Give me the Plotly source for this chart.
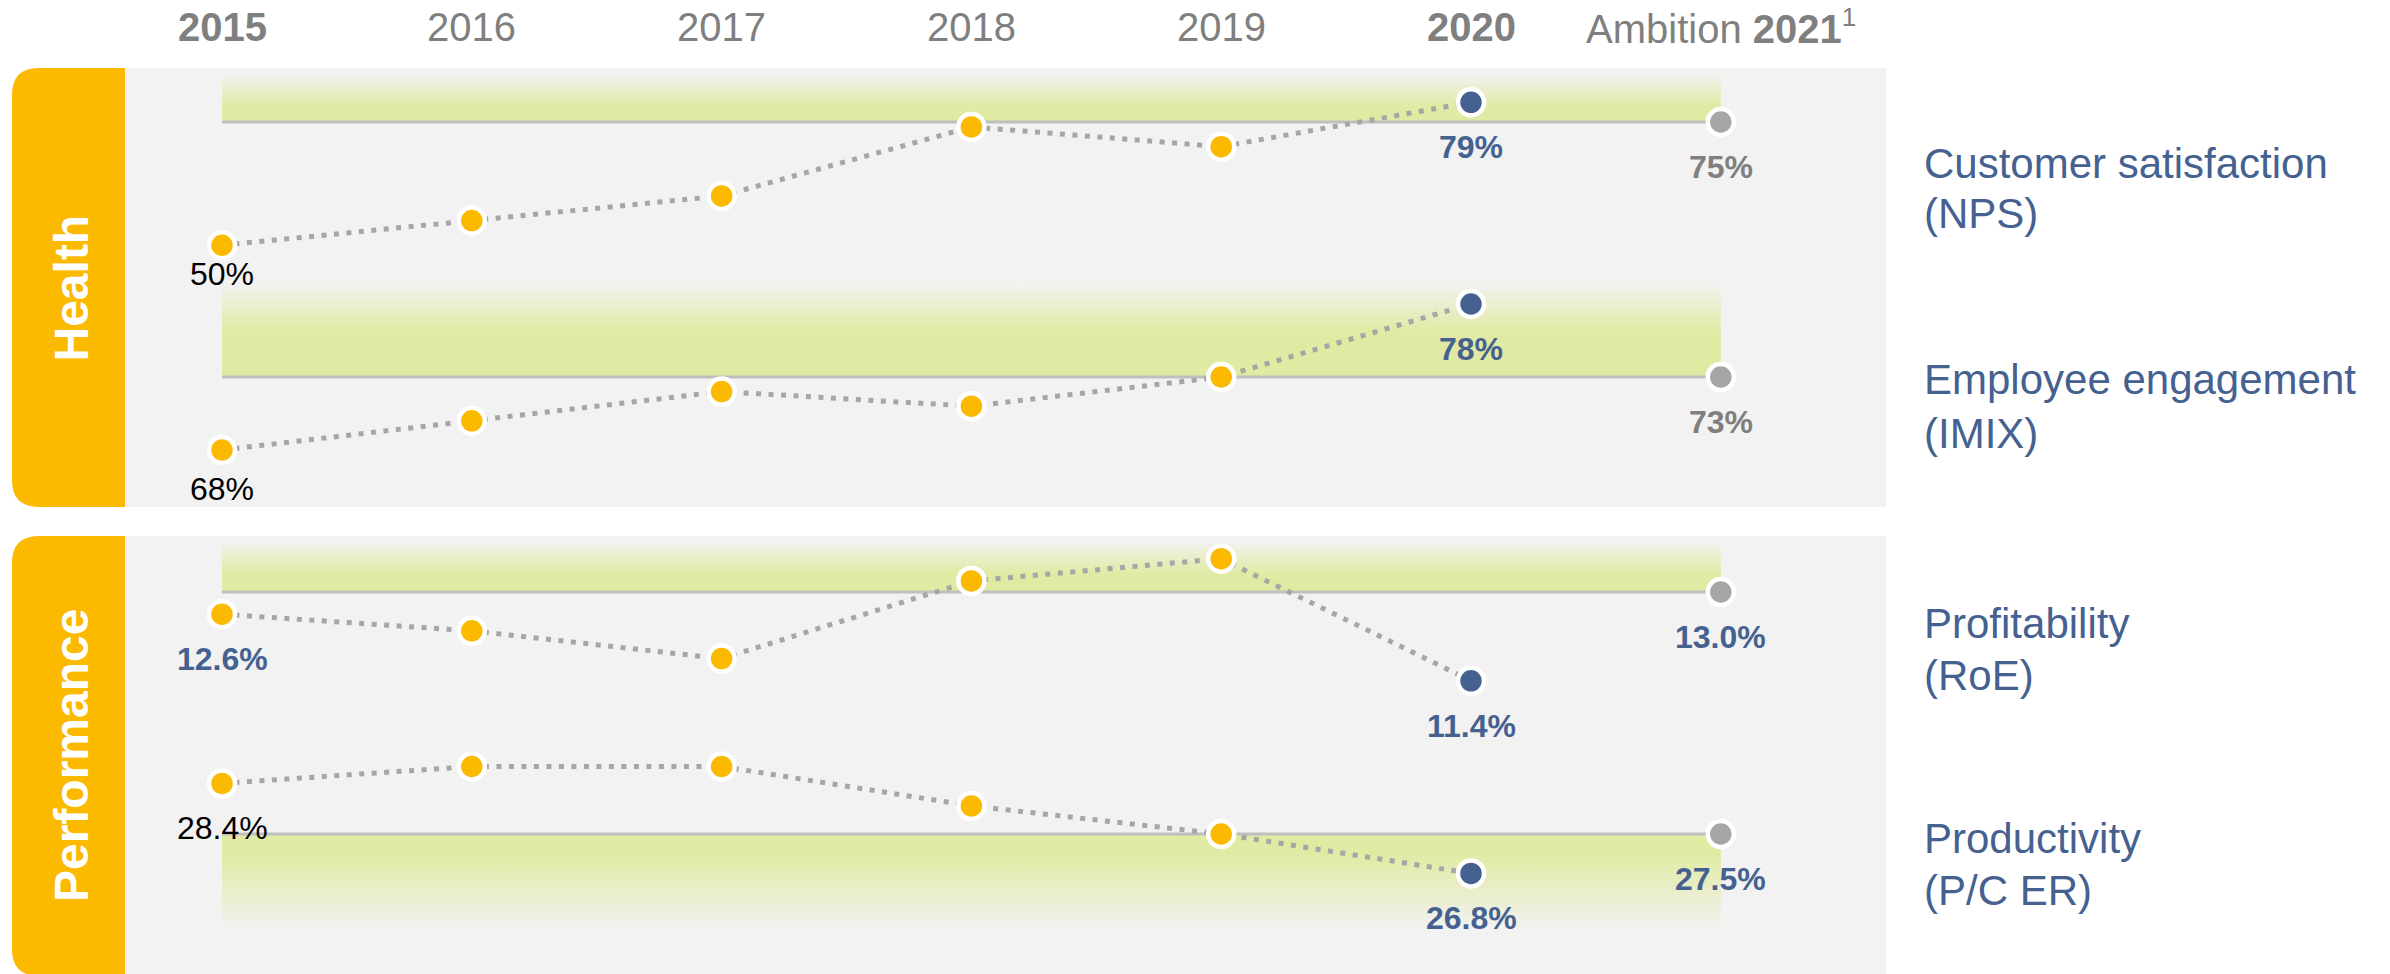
import plotly.graph_objects as go

# ---------------- data ----------------
years = [2015, 2016, 2017, 2018, 2019, 2020]
ambition_year = 2021
year_labels = ["<b>2015</b>", "2016", "2017", "2018", "2019", "<b>2020</b>",
               "Ambition <b>2021</b><sup><span style='font-size:26px'>1</span></sup>"]

nps = [50, 55, 60, 74, 70, 79]
nps_ambition = 75
imix = [68, 70, 72, 71, 73, 78]
imix_ambition = 73
roe = [12.6, 12.3, 11.8, 13.2, 13.6, 11.4]
roe_ambition = 13.0
pce = [28.4, 28.7, 28.7, 28.0, 27.5, 26.8]
pce_ambition = 27.5

metric_names = ["Customer satisfaction", "Employee engagement", "Profitability", "Productivity"]
metric_codes = ["(NPS)", "(IMIX)", "(RoE)", "(P/C ER)"]
metric_decimals = [0, 0, 1, 1]
group_names = ["Health", "Performance"]

# ---------------- styling / layout ----------------
W, H = 2390, 974
FONT = "Liberation Sans, Arial, sans-serif"
YELLOW = "#FBB900"
BLUE = "#456190"
GREYMARK = "#A6A6A6"
GREYTEXT = "#7F7F7F"
PANEL = "#F2F2F2"
GREEN = "#E1EAA2"
REFLINE = "#BFBFBF"

def px(x):
    return x / W

def py(y):
    return 1 - y / H

# x axis: first year at pixel 222, 249.8 px per year
X0_PX, X_PPU = 222, 249.8
x_range = [years[0] - X0_PX / X_PPU, years[0] + (W - X0_PX) / X_PPU]

# per metric: pixel row of ambition line, pixels per unit,
# band extent (px, negative = upward), fraction of band that fades, label shift of first value,
# first-label style, ambition-label colour, right-label rows
cfg = [
    dict(vals=nps, amb=nps_ambition, p0=122, k=4.93, band=-48, fade=0.69, first_shift=-29,
         first_col="#000000", first_bold=False, amb_col=GREYTEXT, rows=(163, 214)),
    dict(vals=imix, amb=imix_ambition, p0=377, k=14.6, band=-94, fade=0.53, first_shift=-39,
         first_col="#000000", first_bold=False, amb_col=GREYTEXT, rows=(379, 433)),
    dict(vals=roe, amb=roe_ambition, p0=592, k=55.5, band=-52, fade=0.67, first_shift=-45,
         first_col=BLUE, first_bold=True, amb_col=BLUE, rows=(623, 675)),
    dict(vals=pce, amb=pce_ambition, p0=834, k=56.25, band=96, fade=0.80, first_shift=-45,
         first_col="#000000", first_bold=False, amb_col=BLUE, rows=(838, 890)),
]

fig = go.Figure()
annotations = []

def fmt(v, d):
    return f"{v:.{d}f}%"

def txt(s, bold):
    return f"<b>{s}</b>" if bold else s

for i, c in enumerate(cfg):
    yax = "y" if i == 0 else f"y{i+1}"
    t = c["amb"]
    outer = t - c["band"] / c["k"]
    # gradient band
    fig.add_trace(go.Scatter(
        x=[years[0], ambition_year, ambition_year, years[0], years[0]],
        y=[t, t, outer, outer, t],
        mode="lines", line=dict(width=0), fill="toself",
        fillgradient=dict(type="vertical",
                          colorscale=[[0, PANEL], [c["fade"], GREEN], [1, GREEN]],
                          start=outer, stop=t),
        yaxis=yax, hoverinfo="skip", showlegend=False))
    # ambition reference line
    fig.add_trace(go.Scatter(
        x=[years[0], ambition_year], y=[t, t], mode="lines",
        line=dict(color=REFLINE, width=3), yaxis=yax, hoverinfo="skip", showlegend=False))
    # dotted series line
    fig.add_trace(go.Scatter(
        x=years, y=c["vals"], mode="lines",
        line=dict(color=GREYMARK, width=5, dash="5px,7.5px"),
        yaxis=yax, hoverinfo="skip", showlegend=False))
    # markers
    fig.add_trace(go.Scatter(
        x=years, y=c["vals"], mode="markers",
        marker=dict(size=26, color=[YELLOW] * (len(years) - 1) + [BLUE],
                    line=dict(color="white", width=4.5)),
        yaxis=yax, showlegend=False))
    fig.add_trace(go.Scatter(
        x=[ambition_year], y=[t], mode="markers",
        marker=dict(size=26, color=GREYMARK, line=dict(color="white", width=4.5)),
        yaxis=yax, showlegend=False))

    d = metric_decimals[i]
    yref = yax
    annotations.append(dict(x=years[0], y=c["vals"][0], xref="x", yref=yref,
                            xanchor="center", yanchor="middle",
                            text=txt(fmt(c["vals"][0], d), c["first_bold"]), showarrow=False,
                            yshift=c["first_shift"],
                            font=dict(family=FONT, size=32, color=c["first_col"])))
    annotations.append(dict(x=years[-1], y=c["vals"][-1], xref="x", yref=yref,
                            xanchor="center", yanchor="middle",
                            text=txt(fmt(c["vals"][-1], d), True), showarrow=False, yshift=-45,
                            font=dict(family=FONT, size=32, color=BLUE)))
    annotations.append(dict(x=ambition_year, y=t, xref="x", yref=yref,
                            xanchor="center", yanchor="middle",
                            text=txt(fmt(t, d), True), showarrow=False, yshift=-45,
                            font=dict(family=FONT, size=32, color=c["amb_col"])))
    # right-hand labels
    for line_txt, row in zip([metric_names[i], metric_codes[i]], c["rows"]):
        annotations.append(dict(x=px(1922), y=py(row), xref="paper", yref="paper",
                                xanchor="left", yanchor="middle", text=line_txt, showarrow=False,
                                font=dict(family=FONT, size=42, color=BLUE)))

# year header
for yr, lab in zip(years + [ambition_year], year_labels):
    annotations.append(dict(x=yr, y=py(27), xref="x", yref="paper",
                            xanchor="center", yanchor="middle",
                            text=lab, showarrow=False,
                            font=dict(family=FONT, size=40, color=GREYTEXT)))

# panels and tabs
def tab_path(x0, x1, y0, y1, r):
    return (f"M {px(x1)} {py(y0)} L {px(x0 + r)} {py(y0)} "
            f"Q {px(x0)} {py(y0)} {px(x0)} {py(y0 + r)} "
            f"L {px(x0)} {py(y1 - r)} Q {px(x0)} {py(y1)} {px(x0 + r)} {py(y1)} "
            f"L {px(x1)} {py(y1)} Z")

panels = [(68, 507), (536, 976)]
shapes = []
for (top, bot), name in zip(panels, group_names):
    shapes.append(dict(type="rect", xref="paper", yref="paper", x0=px(124), x1=px(1886),
                       y0=py(bot), y1=py(top), fillcolor=PANEL, line=dict(width=0), layer="below"))
    shapes.append(dict(type="path", xref="paper", yref="paper", path=tab_path(12, 125, top, bot, 27),
                       fillcolor=YELLOW, line=dict(width=0), layer="below"))
    annotations.append(dict(x=px(71), y=py((top + min(bot, 974)) / 2 + 1), xref="paper", yref="paper",
                            xanchor="center", yanchor="middle",
                            text=f"<b>{name}</b>", textangle=-90, showarrow=False,
                            font=dict(family=FONT, size=48, color="white")))

layout_axes = {}
for i, c in enumerate(cfg):
    key = "yaxis" if i == 0 else f"yaxis{i+1}"
    rng = [c["amb"] - (H - c["p0"]) / c["k"], c["amb"] + c["p0"] / c["k"]]
    ax = dict(range=rng, visible=False, fixedrange=True, domain=[0, 1])
    if i > 0:
        ax["overlaying"] = "y"
    layout_axes[key] = ax

fig.update_layout(
    width=W, height=H, margin=dict(l=0, r=0, t=0, b=0),
    paper_bgcolor="white", plot_bgcolor="rgba(0,0,0,0)",
    xaxis=dict(range=x_range, visible=False, fixedrange=True),
    shapes=shapes, annotations=annotations, showlegend=False,
    **layout_axes,
)

fig.write_html("out.html", config={"displayModeBar": False},
               post_script="document.body.style.margin='0';document.body.style.overflow='hidden';")
